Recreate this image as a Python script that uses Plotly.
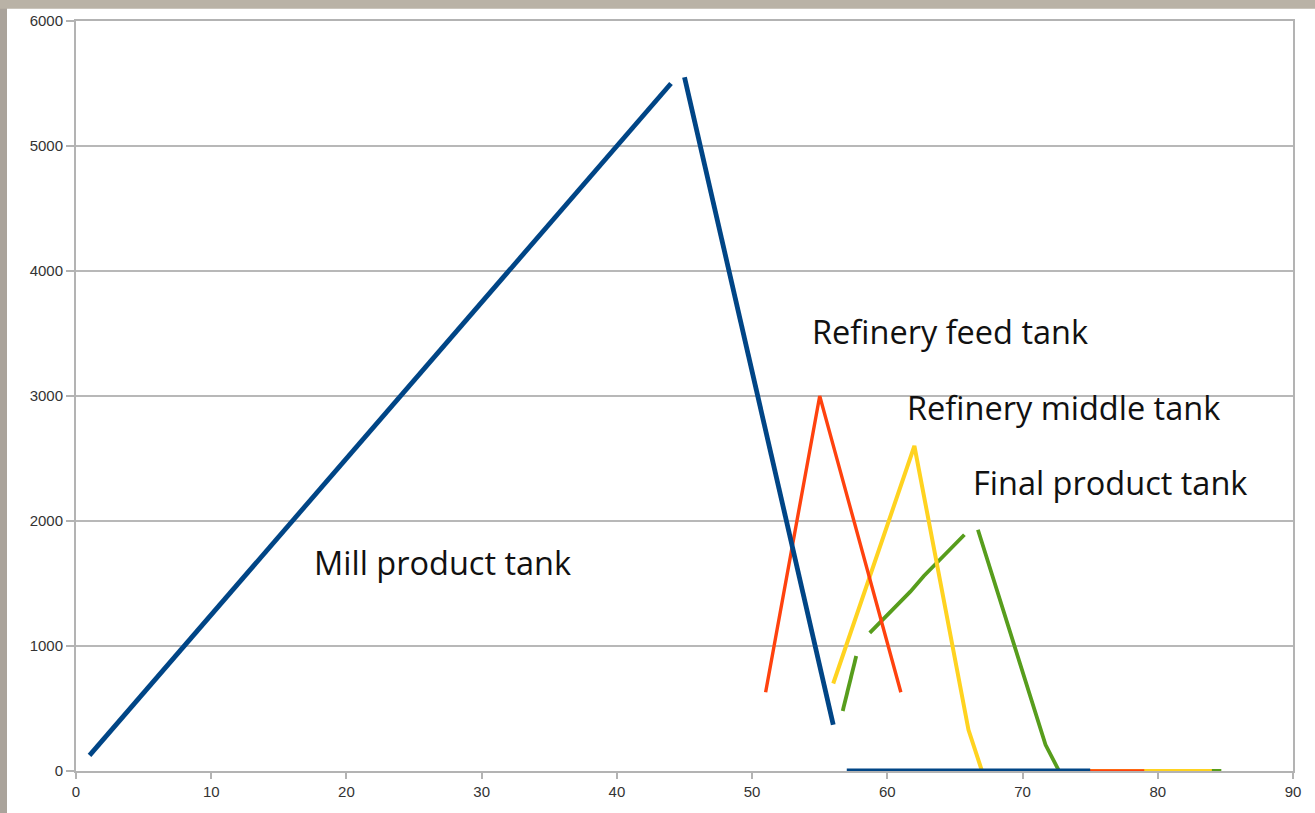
import plotly.graph_objects as go

# ---------------- data ----------------
mill_x = [1, 2, 3, 4, 5, 6, 7, 8, 9, 10, 11, 12, 13, 14, 15, 16, 17, 18, 19, 20, 21, 22,
          23, 24, 25, 26, 27, 28, 29, 30, 31, 32, 33, 34, 35, 36, 37, 38, 39, 40, 41, 42,
          43, 44, None,
          45, 46, 47, 48, 49, 50, 51, 52, 53, 54, 55, 56, None,
          57, 58, 59, 60, 61, 62, 63, 64, 65, 66, 67, 68, 69, 70, 71, 72, 73, 74, 75]
mill_y = [125, 250, 375, 500, 625, 750, 875, 1000, 1125, 1250, 1375, 1500, 1625, 1750,
          1875, 2000, 2125, 2250, 2375, 2500, 2625, 2750, 2875, 3000, 3125, 3250, 3375,
          3500, 3625, 3750, 3875, 4000, 4125, 4250, 4375, 4500, 4625, 4750, 4875, 5000,
          5125, 5250, 5375, 5500, None,
          5550, 5080, 4610, 4140, 3670, 3200, 2730, 2260, 1790, 1320, 850, 370, None,
          0, 0, 0, 0, 0, 0, 0, 0, 0, 0, 0, 0, 0, 0, 0, 0, 0, 0, 0]

feed_x = [51, 52, 53, 54, 55, 56, 57, 58, 59, 60, 61, None,
          62, 63, 64, 65, 66, 67, 68, 69, 70, 71, 72, 73, 74, 75, 76, 77, 78, 79]
feed_y = [630, 1220, 1815, 2410, 3000, 2605, 2210, 1815, 1420, 1025, 630, None,
          0, 0, 0, 0, 0, 0, 0, 0, 0, 0, 0, 0, 0, 0, 0, 0, 0, 0]

middle_x = [56, 57, 58, 59, 60, 61, 62, 63, 64, 65, 66, 67, 68, 69, 70, 71, 72, 73, 74,
            75, 76, 77, 78, 79, 80, 81, 82, 83, 84]
middle_y = [700, 1017, 1333, 1650, 1967, 2283, 2600, 2035, 1470, 905, 330, 0, 0, 0, 0,
            0, 0, 0, 0, 0, 0, 0, 0, 0, 0, 0, 0, 0, 0]

final_x = [56.7, 57.7, None,
           58.7, 59.7, 60.7, 61.7, 62.7, 63.7, 64.7, 65.7, None,
           66.7, 67.7, 68.7, 69.7, 70.7, 71.7, 72.7, 73.7, 74.7, 75.7, 76.7, 77.7, 78.7,
           79.7, 80.7, 81.7, 82.7, 83.7, 84.7]
final_y = [480, 920, None,
           1105, 1215, 1325, 1435, 1560, 1670, 1780, 1890, None,
           1930, 1590, 1250, 900, 560, 210, 0, 0, 0, 0, 0, 0, 0, 0, 0, 0, 0, 0, 0]

labels = ["Mill product tank", "Refinery feed tank", "Refinery middle tank", "Final product tank"]
label_x = [27.1, 64.6, 73.0, 76.5]
label_y = [1670, 3520, 2910, 2310]

x_ticks = [0, 10, 20, 30, 40, 50, 60, 70, 80, 90]
y_ticks = [0, 1000, 2000, 3000, 4000, 5000, 6000]

# ---------------- figure ----------------
fig = go.Figure()
# draw order: green (bottom), yellow, red, blue (top)
fig.add_trace(go.Scatter(x=final_x, y=final_y, mode="lines", name=labels[3],
                         line=dict(color="#579d1c", width=3.8), connectgaps=False))
fig.add_trace(go.Scatter(x=middle_x, y=middle_y, mode="lines", name=labels[2],
                         line=dict(color="#ffd320", width=4), connectgaps=False))
fig.add_trace(go.Scatter(x=feed_x, y=feed_y, mode="lines", name=labels[1],
                         line=dict(color="#ff420e", width=3.4), connectgaps=False))
fig.add_trace(go.Scatter(x=mill_x, y=mill_y, mode="lines", name=labels[0],
                         line=dict(color="#004586", width=4.8), connectgaps=False))

for t, xx, yy in zip(labels, label_x, label_y):
    fig.add_annotation(x=xx, y=yy, text=t, showarrow=False,
                       font=dict(family="Open Sans", size=32.5, color="#111111"),
                       xanchor="center", yanchor="middle")

# blurred background strips of the screenshot (outside the chart panel)
fig.add_shape(type="rect", xref="paper", yref="paper", x0=-0.0630, x1=-0.0567,
              y0=-0.06, y1=1.03, fillcolor="#aaa39b", line=dict(width=0), layer="below")
fig.add_shape(type="rect", xref="paper", yref="paper", x0=-0.0630, x1=1.02,
              y0=1.0165, y1=1.03, fillcolor="#b9b2a6", line=dict(width=0), layer="below")

fig.update_layout(
    width=1315, height=813,
    margin=dict(l=76, r=22, t=15, b=42),
    paper_bgcolor="white", plot_bgcolor="white",
    showlegend=False,
    font=dict(family="Liberation Sans", size=15, color="#333333"),
)
fig.update_xaxes(range=[0, 90], tickvals=x_ticks, ticktext=[str(v) for v in x_ticks],
                 showgrid=False, zeroline=False,
                 showline=True, mirror=True, linecolor="#b3b3b3", linewidth=2,
                 ticks="outside", ticklen=6, tickcolor="#b3b3b3", tickwidth=2,
                 tickfont=dict(family="Liberation Sans", size=15, color="#333333"))
fig.update_yaxes(range=[0, 6000], tickvals=y_ticks, ticktext=[str(v) for v in y_ticks],
                 showgrid=True, gridcolor="#b8b8b8", gridwidth=1.5, zeroline=False,
                 showline=True, mirror=True, linecolor="#b3b3b3", linewidth=2,
                 ticks="outside", ticklen=8, tickcolor="#b3b3b3", tickwidth=2,
                 tickfont=dict(family="Liberation Sans", size=15, color="#333333"))

fig.write_html("out.html", config={"displayModeBar": False},
               post_script="document.body.style.margin='0';document.body.style.overflow='hidden';")
